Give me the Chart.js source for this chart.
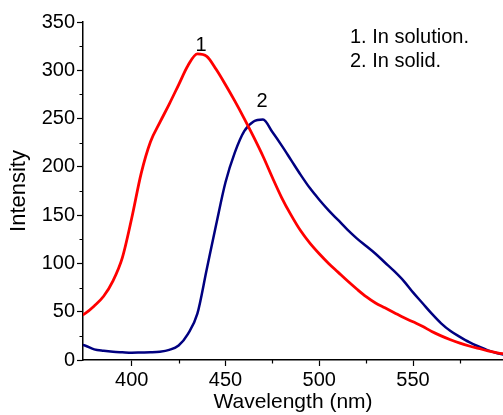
<!DOCTYPE html>
<html>
<head>
<meta charset="utf-8">
<script src="https://cdn.jsdelivr.net/npm/chart.js@4"></script>
<style>
  html, body { margin: 0; padding: 0; background: #fff; }
  canvas { display: block; }
</style>
</head>
<body>
<canvas id="spectra" width="503" height="415"></canvas>
<script>
const wavelengths = [370, 375, 380, 385, 390, 395, 400, 405, 410, 415, 420, 425, 430, 435, 440, 445,
  450, 455, 460, 465, 470, 475, 480, 485, 490, 495, 500, 505, 510, 515, 520, 525, 530, 535,
  540, 545, 550, 555, 560, 565, 570, 575, 580, 585, 590, 595, 600];

// 1. In solution
const solution = [43, 48, 56, 66, 82, 106, 147, 193, 226, 246, 265, 285, 305, 317, 314.5, 301,
  285, 268, 250, 231, 211, 189, 168, 150, 134, 121, 110, 100, 91, 82, 73.5, 65.5, 59, 54,
  49, 44, 39.5, 35, 29.5, 25, 21, 17.5, 14.5, 12, 9.5, 7.5, 6];

// 2. In solid
const solid = [17, 15, 11, 9.5, 8.5, 8, 7.6, 7.8, 8, 8.6, 10.5, 15, 27, 48, 94, 140,
  184, 215, 237, 247, 249, 236, 222, 207, 192, 178, 166, 155, 145, 135, 126, 118, 110, 101,
  92, 82, 70, 59, 48, 38, 30, 24, 18.5, 14, 10, 7, 5];

const xMinorTicks = [425, 475, 525, 575];
const yMinorTicks = [25, 75, 125, 175, 225, 275, 325];

const FONT = '"Liberation Sans", Arial, sans-serif';

function toPoints(values) {
  return wavelengths.map((w, i) => ({ x: w, y: values[i] }));
}

const minorTicksAndNotes = {
  id: "minorTicksAndNotes",
  afterDraw(chart) {
    const { ctx, chartArea } = chart;
    const x = chart.scales.x;
    const y = chart.scales.y;

    ctx.save();
    ctx.strokeStyle = "#000";
    ctx.lineWidth = 1.2;
    ctx.beginPath();
    xMinorTicks.forEach((v) => {
      const px = Math.round(x.getPixelForValue(v)) + 0.5;
      ctx.moveTo(px, chartArea.bottom);
      ctx.lineTo(px, chartArea.bottom + 3.5);
    });
    yMinorTicks.forEach((v) => {
      const py = Math.round(y.getPixelForValue(v)) + 0.5;
      ctx.moveTo(chartArea.left, py);
      ctx.lineTo(chartArea.left - 3.5, py);
    });
    ctx.stroke();

    // curve numbers
    ctx.fillStyle = "#000";
    ctx.font = "20px " + FONT;
    ctx.textAlign = "center";
    ctx.textBaseline = "middle";
    ctx.fillText("1", x.getPixelForValue(437), y.getPixelForValue(326));
    ctx.fillText("2", x.getPixelForValue(469.5), y.getPixelForValue(268));

    // legend text
    ctx.textAlign = "left";
    ctx.fillText("1. In solution.", x.getPixelForValue(516.4), y.getPixelForValue(334));
    ctx.fillText("2. In solid.", x.getPixelForValue(516.4), y.getPixelForValue(309));
    ctx.restore();
  },
};

new Chart(document.getElementById("spectra"), {
  type: "line",
  data: {
    datasets: [
      {
        label: "1. In solution.",
        data: toPoints(solution),
        borderColor: "#ff0000",
        borderWidth: 2.8,
        pointRadius: 0,
        cubicInterpolationMode: "monotone",
      },
      {
        label: "2. In solid.",
        data: toPoints(solid),
        borderColor: "#000080",
        borderWidth: 2.5,
        pointRadius: 0,
        cubicInterpolationMode: "monotone",
      },
    ],
  },
  options: {
    responsive: false,
    animation: false,
    devicePixelRatio: 1,
    layout: { padding: { top: 22, right: 0, bottom: 0, left: 0 } },
    plugins: {
      legend: { display: false },
      tooltip: { enabled: false },
    },
    scales: {
      x: {
        type: "linear",
        min: 374,
        max: 598,
        border: { color: "#000", width: 1.5 },
        grid: { drawOnChartArea: false, tickLength: 6, color: "#000", tickWidth: 1.2 },
        ticks: {
          stepSize: 50,
          includeBounds: false,
          color: "#000",
          padding: 2,
          maxRotation: 0,
          font: { family: FONT, size: 20 },
        },
        title: {
          display: true,
          text: "Wavelength (nm)",
          color: "#000",
          padding: { top: 0, bottom: 0 },
          font: { family: FONT, size: 21 },
        },
        afterFit(scale) {
          scale.height = 55;
        },
      },
      y: {
        min: 0,
        max: 350,
        border: { color: "#000", width: 1.5 },
        grid: { drawOnChartArea: false, tickLength: 6, color: "#000", tickWidth: 1.2 },
        ticks: {
          stepSize: 50,
          color: "#000",
          padding: 2,
          font: { family: FONT, size: 20 },
        },
        title: {
          display: true,
          text: "Intensity",
          color: "#000",
          padding: { top: 6, bottom: 0 },
          font: { family: FONT, size: 22 },
        },
        afterFit(scale) {
          scale.width = 83;
        },
      },
    },
  },
  plugins: [minorTicksAndNotes],
});
</script>
</body>
</html>
